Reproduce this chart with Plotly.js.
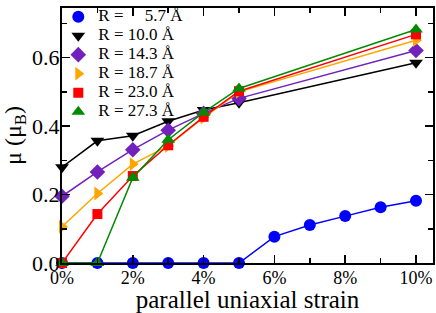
<!DOCTYPE html>
<html>
<head>
<meta charset="utf-8">
<script src="https://cdn.plot.ly/plotly-3.0.1.min.js"></script>
<style>html,body{margin:0;padding:0;background:#fff;}#chart{width:436px;height:313px;}</style>
</head>
<body>
<div id="chart"></div>
<script>
// strain (%)
const strain = [0, 1, 2, 3, 4, 5, 6, 7, 8, 9, 10];
const strainShort = [0, 1, 2, 3, 4, 5, 10];
const seriesNames = ["R = \u2007\u20075.7 \u00C5", "R = 10.0 \u00C5", "R = 14.3 \u00C5", "R = 18.7 \u00C5", "R = 23.0 \u00C5", "R = 27.3 \u00C5"];
const mu_R5_7  = [0, 0, 0, 0, 0, 0, 0.077, 0.111, 0.137, 0.163, 0.182];
const mu_R10_0 = [0.28, 0.357, 0.372, 0.414, 0.447, 0.468, 0.585];
const mu_R14_3 = [0.195, 0.266, 0.331, 0.388, 0.437, 0.481, 0.621];
const mu_R18_7 = [0.106, 0.203, 0.289, 0.342, 0.425, 0.500, 0.651];
const mu_R23_0 = [0.0, 0.143, 0.254, 0.344, 0.427, 0.502, 0.668];
const mu_R27_3 = [0.0, 0.0, 0.249, 0.360, 0.440, 0.510, 0.682];
const yTicks = [0, 0.2, 0.4, 0.6];
const xTicks = [0, 2, 4, 6, 8, 10];

const colors = ["#0000ff", "#000000", "#7221bc", "#ffa500", "#ff0000", "#008b00"];
const symbols = ["circle", "triangle-down", "diamond", "triangle-right", "square", "triangle-up"];
const sizes = [12, 12, 12, 12, 10, 12];
const xs = [strain, strainShort, strainShort, strainShort, strainShort, strainShort];
const ys = [mu_R5_7, mu_R10_0, mu_R14_3, mu_R18_7, mu_R23_0, mu_R27_3];

const traces = [];
ys.forEach((y, i) => {
  traces.push({
    x: xs[i], y: y, type: "scatter", mode: "lines", showlegend: false, cliponaxis: false,
    line: {color: colors[i], width: 1.5}
  });
  traces.push({
    x: xs[i], y: y, name: '<span style="font-size:17px">' + seriesNames[i] + '</span>',
    type: "scatter", mode: "markers", cliponaxis: false,
    marker: {color: colors[i], symbol: symbols[i], size: sizes[i], line: {width: 0}}
  });
});

const serif = "Liberation Serif, Times New Roman, serif";
const layout = {
  width: 436, height: 313,
  margin: {l: 62, r: 3, t: 2, b: 50},
  paper_bgcolor: "#fff", plot_bgcolor: "#fff",
  font: {family: serif, color: "#000"},
  showlegend: true,
  legend: {x: -0.01, y: 1.023, xanchor: "left", yanchor: "top", bgcolor: "rgba(0,0,0,0)",
           font: {family: serif, size: 12, color: "#000"}, itemwidth: 30, tracegroupgap: 0},
  xaxis: {
    range: [0, 10.48], tickvals: xTicks, ticktext: xTicks.map(v => v + "%"),
    ticks: "inside", ticklen: 8, tickwidth: 1.5, tickcolor: "#000", ticklabelstandoff: -3,
    minor: {dtick: 1, ticks: "inside", ticklen: 5, tickwidth: 1.5, tickcolor: "#000"},
    showline: true, linewidth: 2, linecolor: "#000", mirror: "allticks",
    showgrid: false, zeroline: false, layer: "above traces",
    tickfont: {family: serif, size: 18, color: "#000"},
    title: {text: "parallel uniaxial strain", font: {family: serif, size: 25, color: "#000"}, standoff: 4}
  },
  yaxis: {
    range: [0, 0.745], tickvals: yTicks, tickformat: ".1f",
    ticks: "inside", ticklen: 8, tickwidth: 1.5, tickcolor: "#000", ticklabelstandoff: -4,
    minor: {dtick: 0.1, ticks: "inside", ticklen: 5, tickwidth: 1.5, tickcolor: "#000"},
    showline: true, linewidth: 2, linecolor: "#000", mirror: "allticks",
    showgrid: false, zeroline: false, layer: "above traces",
    tickfont: {family: serif, size: 22, color: "#000"},
    title: {text: "\u03BC (\u03BC<sub>B</sub>)", font: {family: serif, size: 24, color: "#000"}, standoff: 8}
  }
};

Plotly.newPlot("chart", traces, layout, {displayModeBar: false, staticPlot: true});
</script>
</body>
</html>
